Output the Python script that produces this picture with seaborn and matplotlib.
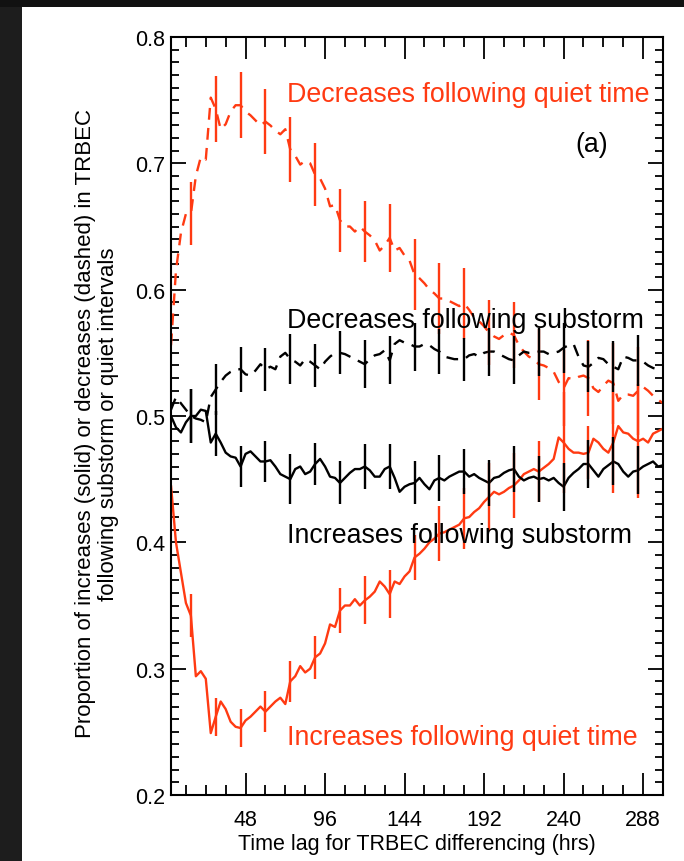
import numpy as np
import pandas as pd
import matplotlib
matplotlib.use("Agg")
import matplotlib.pyplot as plt
from matplotlib.patches import Rectangle
from matplotlib.ticker import MultipleLocator
import seaborn as sns

# ---- data -------------------------------------------------------------
lag_hours = list(range(3, 301, 3))

dec_quiet = [
    0.556, 0.615, 0.645, 0.660, 0.660, 0.690, 0.705, 0.703, 0.752, 0.743,
    0.727, 0.731, 0.741, 0.746, 0.746, 0.741, 0.738, 0.734, 0.730, 0.733,
    0.730, 0.726, 0.723, 0.727, 0.711, 0.706, 0.699, 0.702, 0.700, 0.691,
    0.688, 0.680, 0.666, 0.667, 0.655, 0.650, 0.650, 0.646, 0.650, 0.646,
    0.643, 0.639, 0.631, 0.635, 0.641, 0.631, 0.633, 0.627, 0.623, 0.612,
    0.609, 0.605, 0.600, 0.597, 0.593, 0.593, 0.591, 0.589, 0.587, 0.589,
    0.584, 0.578, 0.575, 0.571, 0.566, 0.563, 0.561, 0.564, 0.566, 0.564,
    0.556, 0.551, 0.547, 0.545, 0.541, 0.540, 0.538, 0.535, 0.527, 0.522,
    0.530, 0.529, 0.531, 0.532, 0.530, 0.522, 0.519, 0.524, 0.528, 0.526,
    0.512, 0.517, 0.517, 0.516, 0.520, 0.523, 0.520, 0.516, 0.513, 0.510,
]

inc_quiet = [
    0.445, 0.400, 0.376, 0.352, 0.342, 0.294, 0.298, 0.292, 0.249, 0.262,
    0.274, 0.268, 0.258, 0.254, 0.253, 0.259, 0.262, 0.266, 0.270, 0.266,
    0.270, 0.274, 0.277, 0.272, 0.290, 0.294, 0.302, 0.297, 0.300, 0.309,
    0.312, 0.320, 0.335, 0.333, 0.346, 0.350, 0.350, 0.355, 0.350, 0.354,
    0.357, 0.361, 0.369, 0.365, 0.359, 0.369, 0.367, 0.373, 0.377, 0.388,
    0.391, 0.395, 0.400, 0.403, 0.407, 0.408, 0.410, 0.412, 0.414, 0.419,
    0.420, 0.424, 0.427, 0.432, 0.436, 0.440, 0.438, 0.440, 0.443, 0.445,
    0.449, 0.454, 0.456, 0.458, 0.456, 0.459, 0.462, 0.466, 0.483, 0.479,
    0.474, 0.471, 0.471, 0.470, 0.471, 0.482, 0.479, 0.474, 0.471, 0.479,
    0.492, 0.487, 0.486, 0.482, 0.480, 0.482, 0.479, 0.486, 0.488, 0.490,
]

dec_substorm = [
    0.505, 0.515, 0.510, 0.505, 0.500, 0.498, 0.497, 0.495, 0.515, 0.521,
    0.527, 0.532, 0.535, 0.537, 0.537, 0.533, 0.532, 0.536, 0.541, 0.537,
    0.539, 0.537, 0.547, 0.550, 0.545, 0.543, 0.540, 0.545, 0.543, 0.540,
    0.537, 0.543, 0.547, 0.550, 0.550, 0.549, 0.547, 0.545, 0.543, 0.541,
    0.545, 0.548, 0.549, 0.552, 0.544, 0.557, 0.560, 0.558, 0.557, 0.555,
    0.555, 0.557, 0.556, 0.553, 0.551, 0.547, 0.546, 0.545, 0.545, 0.545,
    0.548, 0.549, 0.547, 0.550, 0.551, 0.551, 0.549, 0.547, 0.545, 0.544,
    0.548, 0.551, 0.550, 0.550, 0.551, 0.551, 0.549, 0.550, 0.551, 0.554,
    0.556, 0.557, 0.547, 0.540, 0.539, 0.542, 0.546, 0.545, 0.541, 0.539,
    0.537, 0.547, 0.546, 0.544, 0.544, 0.543, 0.540, 0.538, 0.537, 0.536,
]

inc_substorm = [
    0.500, 0.491, 0.487, 0.495, 0.500, 0.500, 0.505, 0.504, 0.479, 0.486,
    0.479, 0.471, 0.468, 0.467, 0.460, 0.470, 0.472, 0.468, 0.464, 0.464,
    0.465, 0.460, 0.454, 0.452, 0.450, 0.458, 0.460, 0.454, 0.456, 0.462,
    0.466, 0.460, 0.452, 0.451, 0.447, 0.451, 0.455, 0.458, 0.458, 0.460,
    0.457, 0.452, 0.452, 0.458, 0.460, 0.451, 0.440, 0.444, 0.446, 0.447,
    0.451, 0.446, 0.442, 0.449, 0.451, 0.449, 0.452, 0.454, 0.456, 0.456,
    0.452, 0.454, 0.451, 0.449, 0.447, 0.451, 0.452, 0.455, 0.457, 0.458,
    0.452, 0.449, 0.451, 0.452, 0.450, 0.451, 0.449, 0.451, 0.447, 0.444,
    0.451, 0.455, 0.458, 0.462, 0.462, 0.457, 0.452, 0.458, 0.461, 0.464,
    0.462, 0.456, 0.452, 0.456, 0.457, 0.460, 0.462, 0.464, 0.460, 0.461,
]

# uncertainty half-widths, drawn every 15 h
err_lags = list(range(15, 286, 15))
err_dec_quiet = [0.025, 0.026, 0.026, 0.026, 0.026, 0.025, 0.025, 0.024, 0.027, 0.028,
                 0.028, 0.028, 0.026, 0.026, 0.028, 0.030, 0.030, 0.032, 0.035]
err_inc_quiet = [0.017, 0.015, 0.015, 0.016, 0.016, 0.017, 0.018, 0.019, 0.019, 0.018,
                 0.022, 0.024, 0.027, 0.026, 0.024, 0.040, 0.021, 0.040, 0.045]
err_dec_substorm = [0.021, 0.020, 0.018, 0.017, 0.020, 0.017, 0.017, 0.019, 0.019, 0.019,
                    0.018, 0.017, 0.019, 0.019, 0.019, 0.020, 0.020, 0.020, 0.020]
err_inc_substorm = [0.021, 0.018, 0.016, 0.016, 0.020, 0.017, 0.017, 0.018, 0.018, 0.017,
                    0.018, 0.018, 0.018, 0.018, 0.018, 0.019, 0.019, 0.019, 0.019]

series_names = ["dec_quiet", "inc_quiet", "dec_substorm", "inc_substorm"]
series_values = [dec_quiet, inc_quiet, dec_substorm, inc_substorm]
series_errors = [err_dec_quiet, err_inc_quiet, err_dec_substorm, err_inc_substorm]

x_ticks = [48, 96, 144, 192, 240, 288]
y_ticks = [0.2, 0.3, 0.4, 0.5, 0.6, 0.7, 0.8]

# ---- style ------------------------------------------------------------
RED = "#ff3a12"
BLACK = "#000000"
palette = {"dec_quiet": RED, "inc_quiet": RED,
           "dec_substorm": BLACK, "inc_substorm": BLACK}
dash_map = {"dec_quiet": (5, 3.5), "inc_quiet": "",
            "dec_substorm": (5, 3.5), "inc_substorm": ""}

sns.set_theme(style="ticks")
plt.rcParams["font.family"] = ["Liberation Sans", "DejaVu Sans"]
plt.rcParams["text.color"] = "black"
plt.rcParams["axes.labelcolor"] = "black"

W, H = 684, 862
fig = plt.figure(figsize=(W / 100, H / 100), dpi=100)
fig.patch.set_facecolor("white")

ax_left, ax_right, ax_top, ax_bottom = 171, 663, 38, 796
ax = fig.add_axes([ax_left / W, 1 - ax_bottom / H,
                   (ax_right - ax_left) / W, (ax_bottom - ax_top) / H])

frames = []
for name, vals in zip(series_names, series_values):
    frames.append(pd.DataFrame({"lag": lag_hours, "value": vals, "series": name}))
df = pd.concat(frames, ignore_index=True)

sns.lineplot(data=df, x="lag", y="value", hue="series", style="series",
             palette=palette, dashes=dash_map, linewidth=1.7,
             legend=False, ax=ax, sort=False)

lag_index = {v: i for i, v in enumerate(lag_hours)}
for name, vals, errs in zip(series_names, series_values, series_errors):
    centers = np.array([vals[lag_index[l]] for l in err_lags])
    errs = np.array(errs)
    ax.vlines(err_lags, centers - errs, centers + errs,
              colors=palette[name], linewidth=1.7, zorder=3)

ax.set_xlim(3, 300)
ax.set_ylim(0.2, 0.8)
ax.set_xticks(x_ticks)
ax.set_xticklabels([str(t) for t in x_ticks])
ax.xaxis.set_minor_locator(MultipleLocator(12))
ax.set_yticks(y_ticks)
ax.set_yticklabels([f"{t:.1f}" for t in y_ticks])
ax.yaxis.set_minor_locator(MultipleLocator(0.01))

ax.tick_params(axis="both", which="both", direction="in", top=True, right=True,
               colors="black", width=1.3, labelsize=15.5)
ax.tick_params(axis="x", which="major", length=16, pad=10)
ax.tick_params(axis="x", which="minor", length=7.5)
ax.tick_params(axis="y", which="major", length=11, pad=4)
ax.tick_params(axis="y", which="minor", length=5.5)
for s in ax.spines.values():
    s.set_linewidth(1.5)
    s.set_color("black")
    s.set_visible(True)

ax.set_xlabel("Time lag for TRBEC differencing (hrs)", fontsize=15.5, labelpad=2)
ax.set_ylabel("")
fig.text(97 / W, 1 - 424 / H,
         "Proportion of increases (solid) or decreases (dashed) in TRBEC\n"
         "following substorm or quiet intervals",
         rotation=90, ha="center", va="center", fontsize=16, linespacing=1.1)

ann_size = 19.3
ax.text(73.3, 0.749, "Decreases following quiet time", color=RED, fontsize=ann_size)
ax.text(247, 0.710, "(a)", color=BLACK, fontsize=ann_size)
ax.text(73.3, 0.5705, "Decreases following substorm", color=BLACK, fontsize=ann_size)
ax.text(73.3, 0.400, "Increases following substorm", color=BLACK, fontsize=ann_size)
ax.text(73.3, 0.2403, "Increases following quiet time", color=RED, fontsize=ann_size)

# dark frame along the left and top edges
fig.patches.append(Rectangle((0, 0), 22 / W, 1, transform=fig.transFigure,
                             facecolor="#1d1d1d", edgecolor="none", zorder=10))
fig.patches.append(Rectangle((0, 1 - 8 / H), 1, 8 / H, transform=fig.transFigure,
                             facecolor="#111111", edgecolor="none", zorder=10))

fig.savefig("out.png", dpi=100, facecolor=fig.get_facecolor())
